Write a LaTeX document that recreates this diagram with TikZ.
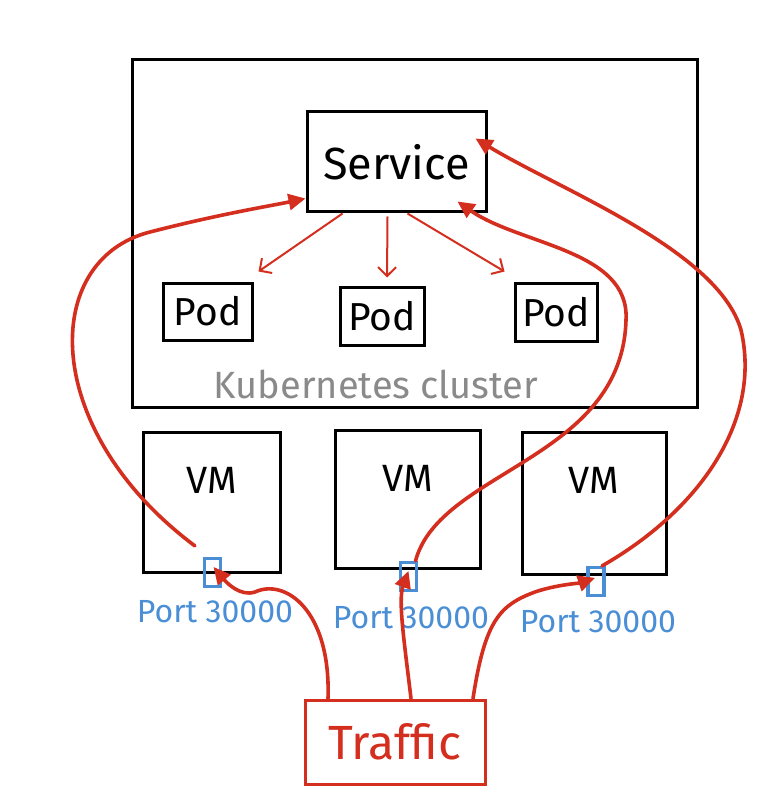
\documentclass[tikz,border=0pt]{standalone}
\usepackage{fontspec}
\setmainfont{Fira Sans}
\usetikzlibrary{arrows.meta}
\definecolor{kred}{HTML}{D42E1E}
\definecolor{kblue}{HTML}{4A8FD6}
\definecolor{kgray}{HTML}{8A8A8A}
\tikzset{
  box/.style={draw=black, line width=3pt, rectangle, inner sep=0pt},
  podbox/.style={box, font=\fontsize{39}{42}\selectfont},
  vmbox/.style={box},
  portbox/.style={draw=kblue, line width=3.2pt, rectangle, inner sep=0pt, minimum width=16pt, minimum height=28pt},
  portlabel/.style={text=kblue, font=\fontsize{32}{36}\selectfont},
  flow/.style={draw=kred, line width=3.6pt, line cap=round, -{Triangle[length=17pt,width=16pt]}},
  thin/.style={draw=kred, line width=2pt, -{Straight Barb[length=9pt,width=18pt]}},
}
\begin{document}
\begin{tikzpicture}[x=1pt,y=-1pt]
\useasboundingbox (0,0) rectangle (771,794);
\fill[white] (0,0) rectangle (771,794);
% cluster
\node[box, minimum width=565pt, minimum height=347pt] (cluster) at (414.5,233.5) {};
\node[text=kgray, font=\fontsize{38}{40}\selectfont] (klabel) at (376,384) {Kubernetes cluster};
% service
\node[box, minimum width=179pt, minimum height=100pt, font=\fontsize{45}{48}\selectfont] (svc) at (396.5,162) {Service};
% pods
\node[podbox, minimum width=89pt, minimum height=57pt] (pod1) at (207.5,311.5) {Pod};
\node[podbox, minimum width=84pt, minimum height=58pt] (pod2) at (382,316) {Pod};
\node[podbox, minimum width=82pt, minimum height=58pt] (pod3) at (556,312) {Pod};
% VMs
\node[vmbox, minimum width=137pt, minimum height=140pt] (vm1) at (211.5,502) {};
\node[vmbox, minimum width=145pt, minimum height=138pt] (vm2) at (407.5,499) {};
\node[vmbox, minimum width=144pt, minimum height=142pt] (vm3) at (594,503) {};
\node[font=\fontsize{38}{40}\selectfont] (vmt1) at ([yshift=-50pt]vm1.north) {VM};
\node[font=\fontsize{38}{40}\selectfont] (vmt2) at ([yshift=-50pt]vm2.north) {VM};
\node[font=\fontsize{38}{40}\selectfont] (vmt3) at ([yshift=-50pt]vm3.north) {VM};
% ports
\node[portbox] (p1) at (212.5,572.5) {};
\node[portbox] (p2) at (408.5,576.5) {};
\node[portbox] (p3) at (596,581.5) {};
\node[portlabel] (pl1) at (215,612) {Port 30000};
\node[portlabel] (pl2) at (411,618) {Port 30000};
\node[portlabel] (pl3) at (598,622) {Port 30000};
% traffic
\node[draw=kred, line width=3pt, rectangle, minimum width=180pt, minimum height=84pt, text=kred, font=\fontsize{48}{52}\selectfont] (traffic) at (395,742) {Traffic};
% service to pods
\draw[thin] ([xshift=-54pt]svc.south) -- ([xshift=5pt,yshift=10pt]pod1.north east);
\draw[thin] ([xshift=-9pt,yshift=-3pt]svc.south) -- ([xshift=5pt,yshift=8pt]pod2.north);
\draw[thin] ([xshift=11pt]svc.south) -- ([xshift=-9pt,yshift=10pt]pod3.north west);
% ports to service
\draw[flow] ([xshift=-8pt,yshift=11pt]p1.north west) .. controls (40,430) and (40,260) .. (150,232) .. controls (220,214) and (270,206) .. ([yshift=15pt]svc.south west);
\draw[flow] ([xshift=7pt]p2.north) .. controls (440,470) and (622,460) .. (626,320) .. controls (630,250) and (520,245) .. ([xshift=-30pt,yshift=12pt]svc.south east);
\draw[flow] ([xshift=6pt]p3.north) .. controls (700,510) and (762,420) .. (741,330) .. controls (718,250) and (560,190) .. ([xshift=-12pt,yshift=-28pt]svc.north east);
% traffic to ports
\draw[flow] ([xshift=-67pt]traffic.north) .. controls (331,610) and (285,578) .. (255,592) .. controls (240,597) and (226,582) .. ([xshift=1pt,yshift=-10pt]p1.north);
\draw[flow] ([xshift=16pt]traffic.north) .. controls (404,640) and (398,600) .. ([yshift=-10pt]p2.north);
\draw[flow] ([xshift=78pt]traffic.north) .. controls (485,620) and (500,605) .. (535,592) .. controls (555,585) and (580,583) .. ([xshift=-1pt,yshift=-12pt]p3.north);
\end{tikzpicture}
\end{document}
